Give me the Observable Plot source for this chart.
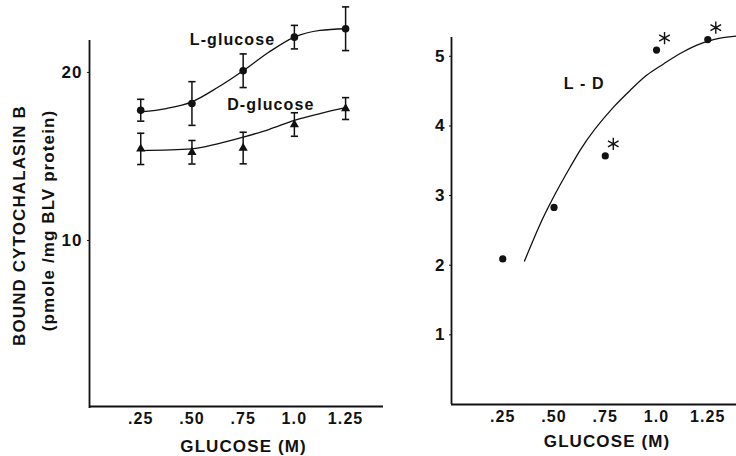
<!DOCTYPE html>
<html>
<head>
<meta charset="utf-8">
<script src="https://cdn.jsdelivr.net/npm/d3@7"></script>
<script src="https://cdn.jsdelivr.net/npm/@observablehq/plot@0.6"></script>
<style>
  body { margin: 0; background: #fff; }
  #fig { position: relative; width: 736px; height: 456px; overflow: hidden; background: #fff; }
  #fig svg { position: absolute; top: 0; }
  #fig text { letter-spacing: 1.1px; }
</style>
</head>
<body>
<div id="fig"></div>
<script>
// Glucose concentrations (M) and their printed tick labels
const glucose = [0.25, 0.5, 0.75, 1.0, 1.25];
const glucoseTickLabels = [".25", ".50", ".75", "1.0", "1.25"];

// Bound cytochalasin B (pmole / mg BLV protein), mean ± error
const lGlucoseMean = [17.75, 18.15, 20.1, 22.1, 22.6];
const lGlucoseErr  = [0.65, 1.3, 1.0, 0.7, 1.3];
const dGlucoseMean = [15.45, 15.25, 15.5, 16.9, 17.85];
const dGlucoseErr  = [0.93, 0.7, 0.94, 0.7, 0.65];

// Fitted smooth curves through each series
const lCurveX = [0.25, 0.375, 0.5, 0.625, 0.75, 0.875, 1.0, 1.125, 1.25];
const lCurveY = [17.65, 17.85, 18.25, 19.1, 20.1, 21.2, 22.1, 22.5, 22.6];
const dCurveX = [0.25, 0.5, 0.625, 0.75, 0.875, 1.0, 1.125, 1.25];
const dCurveY = [15.35, 15.45, 15.75, 16.15, 16.6, 17.15, 17.55, 17.9];

// Difference L − D, with significance flags
const diffValue = [2.09, 2.83, 3.57, 5.09, 5.24];
const diffSignificant = [false, false, true, true, true];
const diffCurveX = [0.356, 0.448, 0.489, 0.579, 0.627, 0.79, 0.871, 0.953, 1.034, 1.115, 1.197, 1.278, 1.39];
const diffCurveY = [2.06, 2.69, 2.93, 3.41, 3.65, 4.27, 4.51, 4.73, 4.89, 5.04, 5.16, 5.24, 5.29];

const leftTicks = [10, 20];
const rightTicks = [1, 2, 3, 4, 5];

const lRows = glucose.map((x, i) => ({x, y: lGlucoseMean[i], e: lGlucoseErr[i]}));
const dRows = glucose.map((x, i) => ({x, y: dGlucoseMean[i], e: dGlucoseErr[i]}));
const lCurve = lCurveX.map((x, i) => ({x, y: lCurveY[i]}));
const dCurve = dCurveX.map((x, i) => ({x, y: dCurveY[i]}));
const diffRows = glucose.map((x, i) => ({x, y: diffValue[i], sig: diffSignificant[i]}));
const diffCurve = diffCurveX.map((x, i) => ({x, y: diffCurveY[i]}));

// Horizontal error-bar cap drawn as a dot symbol
const capSymbol = {
  draw(ctx, size) {
    const w = Math.sqrt(size / Math.PI);
    ctx.moveTo(-w, 0);
    ctx.lineTo(w, 0);
  }
};

const font = "'Liberation Sans', Arial, Helvetica, sans-serif";
const tickFmt = (d) => glucoseTickLabels[glucose.indexOf(d)];

function errorBars(rows) {
  return [
    Plot.ruleX(rows, {x: "x", y1: (d) => d.y - d.e, y2: (d) => d.y + d.e, stroke: "#111", strokeWidth: 1.5}),
    Plot.dot(rows, {x: "x", y: (d) => d.y + d.e, symbol: capSymbol, r: 3.6, stroke: "#111", strokeWidth: 1.6}),
    Plot.dot(rows, {x: "x", y: (d) => d.y - d.e, symbol: capSymbol, r: 3.6, stroke: "#111", strokeWidth: 1.6})
  ];
}

const left = Plot.plot({
  width: 383,
  height: 456,
  marginLeft: 89,
  marginRight: 0,
  marginTop: 40,
  marginBottom: 48,
  x: {domain: [0, 1.435]},
  y: {domain: [0, 21.9]},
  style: {fontFamily: font, fontWeight: "bold", color: "#111", background: "transparent", overflow: "visible"},
  marks: [
    Plot.axisY({ticks: leftTicks, tickFormat: (d) => String(d), tickSize: 2, tickPadding: 5, fontSize: 17, label: null}),
    Plot.axisX({ticks: glucose, tickFormat: tickFmt, tickSize: 0, tickPadding: 4, fontSize: 16, label: null}),
    Plot.ruleX([0], {y1: 0, y2: 21.9, strokeWidth: 1.8, stroke: "#111"}),
    Plot.ruleY([0], {dy: -2, strokeWidth: 1.8, stroke: "#111"}),
    Plot.line(lCurve, {x: "x", y: "y", curve: "monotone-x", stroke: "#111", strokeWidth: 1.3}),
    Plot.line(dCurve, {x: "x", y: "y", curve: "monotone-x", stroke: "#111", strokeWidth: 1.3}),
    ...errorBars(lRows),
    ...errorBars(dRows),
    Plot.dot(lRows, {x: "x", y: "y", r: 3.8, fill: "#111"}),
    Plot.dot(dRows, {x: "x", y: "y", symbol: "triangle", r: 3.4, fill: "#111"}),
    Plot.text(["L-glucose"], {x: 0.698, y: 21.95, fontSize: 16, fill: "#111", lineAnchor: "middle"}),
    Plot.text(["D-glucose"], {x: 0.885, y: 18.05, fontSize: 16, fill: "#111", lineAnchor: "middle"}),
    Plot.text(["GLUCOSE (M)"], {frameAnchor: "bottom", dx: 7, dy: 38, fontSize: 17, fill: "#111", lineAnchor: "middle"}),
    Plot.text(["BOUND CYTOCHALASIN B"], {frameAnchor: "left", textAnchor: "middle", dx: -70, dy: 1, rotate: -90, fontSize: 17, fill: "#111", lineAnchor: "middle"}),
    Plot.text(["(pmole /mg BLV protein)"], {frameAnchor: "left", textAnchor: "middle", dx: -41, dy: -4, rotate: -90, fontSize: 17, fill: "#111", lineAnchor: "middle"})
  ]
});
left.style.left = "0px";

const right = Plot.plot({
  width: 353,
  height: 456,
  marginLeft: 68,
  marginRight: 0,
  marginTop: 37,
  marginBottom: 52,
  x: {domain: [0, 1.39]},
  y: {domain: [0, 5.27]},
  style: {fontFamily: font, fontWeight: "bold", color: "#111", background: "transparent", overflow: "visible"},
  marks: [
    Plot.axisY({ticks: rightTicks, tickFormat: (d) => String(d), tickSize: 2, tickPadding: 4, fontSize: 17, label: null}),
    Plot.axisX({ticks: glucose, tickFormat: tickFmt, tickSize: 0, tickPadding: 6, fontSize: 16, label: null}),
    Plot.ruleX([0], {y1: 0, y2: 5.27, strokeWidth: 1.8, stroke: "#111"}),
    Plot.ruleY([0], {strokeWidth: 1.8, stroke: "#111"}),
    Plot.line(diffCurve, {x: "x", y: "y", curve: "monotone-x", stroke: "#111", strokeWidth: 1.3}),
    Plot.dot(diffRows, {x: "x", y: "y", r: 3.6, fill: "#111"}),
    Plot.dot(diffRows, {filter: "sig", x: "x", y: "y", dx: 8, dy: -12, symbol: "asterisk", r: 5.8, stroke: "#111", strokeWidth: 1.4}),
    Plot.text(["L - D"], {x: 0.647, y: 4.6, fontSize: 16, fill: "#111", lineAnchor: "middle"}),
    Plot.text(["GLUCOSE (M)"], {frameAnchor: "bottom", dx: 13, dy: 37, fontSize: 17, fill: "#111", lineAnchor: "middle"})
  ]
});
right.style.left = "383px";

document.getElementById("fig").append(left, right);
</script>
</body>
</html>
